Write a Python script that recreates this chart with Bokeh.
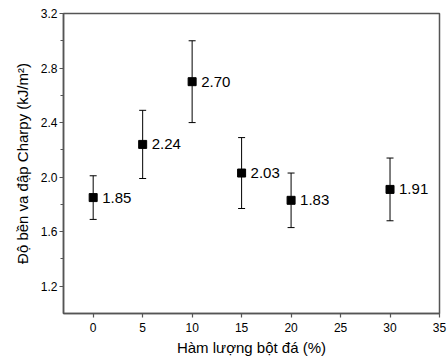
from bokeh.plotting import figure
from bokeh.models import Range1d, FixedTicker, NumeralTickFormatter, ColumnDataSource, Whisker, TeeHead
from bokeh.core.properties import value
from bokeh.embed import file_html
from bokeh.resources import INLINE

# data
content = [0, 5, 10, 15, 20, 30]
strength = [1.85, 2.24, 2.70, 2.03, 1.83, 1.91]
errors = [0.16, 0.25, 0.30, 0.26, 0.20, 0.23]
labels = ["1.85", "2.24", "2.70", "2.03", "1.83", "1.91"]
x_ticks = [0, 5, 10, 15, 20, 25, 30, 35]
y_ticks = [1.2, 1.6, 2.0, 2.4, 2.8, 3.2]
y_minor = [1.4, 1.8, 2.2, 2.6, 3.0]

FONT = "Liberation Sans"
AX = "#555555"

src = ColumnDataSource(dict(
    x=content, y=strength, lab=labels,
    up=[v + e for v, e in zip(strength, errors)],
    lo=[v - e for v, e in zip(strength, errors)],
))

p = figure(width=448, height=364, output_backend="svg", toolbar_location=None,
           x_range=Range1d(-3, 35), y_range=Range1d(1.0, 3.2),
           min_border_left=63, min_border_right=9, min_border_top=13, min_border_bottom=51)
p.background_fill_color = "white"
p.border_fill_color = "white"
p.xgrid.visible = False
p.ygrid.visible = False
p.outline_line_color = AX
p.outline_line_width = 1.5

w = Whisker(source=src, base="x", upper="up", lower="lo", line_color="black", line_width=1,
            upper_head=TeeHead(size=7, line_color="black", line_width=1),
            lower_head=TeeHead(size=7, line_color="black", line_width=1))
p.add_layout(w)

p.scatter("x", "y", source=src, marker="square", size=8, color="black")
p.text("x", "y", text="lab", source=src, x_offset=9, text_baseline="middle",
       text_align="left", text_font=value(FONT), text_font_size="15px", text_color="black")

for ax in (p.xaxis[0], p.yaxis[0]):
    ax.axis_line_color = AX
    ax.axis_line_width = 1.5
    ax.major_tick_line_color = AX
    ax.major_tick_line_width = 1.2
    ax.major_tick_out = 4
    ax.major_tick_in = 0
    ax.minor_tick_line_color = AX
    ax.minor_tick_out = 3
    ax.minor_tick_in = 0
    ax.major_label_text_font = FONT
    ax.major_label_text_font_size = "12px"
    ax.major_label_text_color = "black"
    ax.axis_label_text_font = FONT
    ax.axis_label_text_font_size = "15px"
    ax.axis_label_text_font_style = "normal"
    ax.axis_label_text_color = "black"

p.xaxis.ticker = FixedTicker(ticks=x_ticks)
p.xaxis.minor_tick_line_color = None
p.xaxis.major_label_standoff = 5
p.xaxis.axis_label = "Hàm lượng bột đá (%)"
p.xaxis.axis_label_standoff = 4

p.yaxis.ticker = FixedTicker(ticks=y_ticks, minor_ticks=y_minor)
p.yaxis.formatter = NumeralTickFormatter(format="0.0")
p.yaxis.major_label_standoff = 2
p.yaxis.axis_label = "Độ bền va đập Charpy (kJ/m²)"
p.yaxis.axis_label_standoff = 7

open("out.html", "w").write(file_html(p, INLINE))
